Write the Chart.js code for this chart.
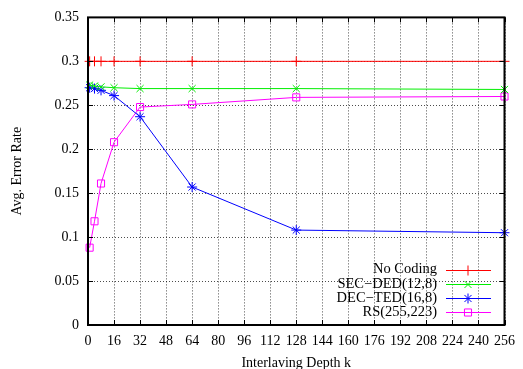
<!DOCTYPE html>
<html>
<head>
<meta charset="utf-8">
<script src="https://cdn.jsdelivr.net/npm/chart.js@4/dist/chart.umd.min.js"></script>
<style>
html,body{margin:0;padding:0;background:#fff;}
#wrap{position:relative;width:523px;height:369px;}
</style>
</head>
<body>
<div id="wrap"><canvas id="c" width="523" height="369"></canvas></div>
<script>
const depths = [1, 4, 8, 16, 32, 64, 128, 256];
const noCoding = [0.300, 0.300, 0.300, 0.300, 0.300, 0.300, 0.300, 0.300];
const secDed = [0.273, 0.272, 0.271, 0.270, 0.269, 0.269, 0.269, 0.268];
const decTed = [0.270, 0.269, 0.267, 0.261, 0.237, 0.157, 0.108, 0.105];
const rs = [0.088, 0.118, 0.161, 0.208, 0.248, 0.251, 0.259, 0.260];
const xTicks = [0, 16, 32, 48, 64, 80, 96, 112, 128, 144, 160, 176, 192, 208, 224, 240, 256];
const yTickLabels = ['0', '0.05', '0.1', '0.15', '0.2', '0.25', '0.3', '0.35'];
const seriesNames = ['No Coding', 'SEC\u2212DED(12,8)', 'DEC\u2212TED(16,8)', 'RS(255,223)'];
const seriesColors = ['#ff0000', '#00ee00', '#0000ff', '#ff00ff'];
const seriesStyles = ['cross', 'crossRot', 'star', 'rect'];
const seriesData = [noCoding, secDed, decTed, rs];

const FONT = '"Liberation Serif", "DejaVu Serif", serif';

const datasets = seriesData.map((vals, i) => ({
  label: seriesNames[i],
  data: depths.map((d, j) => ({x: d, y: vals[j]})),
  borderColor: seriesColors[i],
  backgroundColor: 'rgba(0,0,0,0)',
  borderWidth: 1,
  pointStyle: seriesStyles[i],
  pointRadius: 5,
  pointBorderWidth: 1,
  pointBorderColor: seriesColors[i],
  pointBackgroundColor: 'rgba(0,0,0,0)',
  tension: 0,
  clip: false
}));

const gridPlugin = {
  id: 'dotgrid',
  beforeDatasetsDraw(chart) {
    const ctx = chart.ctx, a = chart.chartArea;
    const xs = chart.scales.x, ys = chart.scales.y;
    ctx.save();
    ctx.strokeStyle = 'rgba(0,0,0,0.7)';
    ctx.lineWidth = 1;
    ctx.setLineDash([1, 2]);
    ctx.beginPath();
    xTicks.forEach(v => {
      const px = Math.round(xs.getPixelForValue(v)) + 0.5;
      ctx.moveTo(px, a.top); ctx.lineTo(px, a.bottom);
    });
    yTickLabels.forEach(t => {
      const py = Math.round(ys.getPixelForValue(parseFloat(t))) + 0.5;
      ctx.moveTo(a.left, py); ctx.lineTo(a.right, py);
    });
    ctx.stroke();
    ctx.restore();
  }
};

const framePlugin = {
  id: 'frame',
  afterDatasetsDraw(chart) {
    const ctx = chart.ctx, a = chart.chartArea;
    const xs = chart.scales.x, ys = chart.scales.y;
    ctx.save();
    ctx.strokeStyle = '#000';
    ctx.lineWidth = 1;
    ctx.beginPath();
    xTicks.forEach(v => {
      const px = Math.round(xs.getPixelForValue(v)) + 0.5;
      ctx.moveTo(px, a.top); ctx.lineTo(px, a.top + 5);
      ctx.moveTo(px, a.bottom); ctx.lineTo(px, a.bottom - 5);
    });
    yTickLabels.forEach(t => {
      const py = Math.round(ys.getPixelForValue(parseFloat(t))) + 0.5;
      ctx.moveTo(a.left, py); ctx.lineTo(a.left + 5, py);
      ctx.moveTo(a.right, py); ctx.lineTo(a.right - 5, py);
    });
    ctx.stroke();
    ctx.lineWidth = 2;
    ctx.strokeRect(a.left, a.top, a.right - a.left, a.bottom - a.top);

    // legend
    ctx.font = '14.5px ' + FONT;
    ctx.textAlign = 'right';
    ctx.textBaseline = 'middle';
    const textRight = 437, lx0 = 446, lx1 = 491, mx = 468;
    const rowY = [269.5, 283.8, 298.1, 312.4];
    seriesNames.forEach((name, i) => {
      const y = rowY[i];
      ctx.fillStyle = '#000';
      ctx.fillText(name, textRight, y);
      ctx.strokeStyle = seriesColors[i];
      ctx.fillStyle = 'rgba(0,0,0,0)';
      ctx.lineWidth = 1;
      ctx.beginPath();
      ctx.moveTo(lx0, Math.round(y) + 0.5); ctx.lineTo(lx1, Math.round(y) + 0.5);
      ctx.stroke();
      Chart.helpers.drawPoint(ctx, {pointStyle: seriesStyles[i], radius: 5, borderWidth: 1, rotation: 0}, mx, Math.round(y) + 0.5);
    });
    ctx.restore();
  }
};

new Chart(document.getElementById('c'), {
  type: 'line',
  data: {datasets},
  options: {
    responsive: false,
    animation: false,
    events: [],
    layout: {padding: {left: 0, top: 16, right: 15, bottom: 0}},
    plugins: {legend: {display: false}, tooltip: {enabled: false}},
    scales: {
      x: {
        type: 'linear',
        min: 0, max: 256,
        afterBuildTicks(s) { s.ticks = xTicks.map(v => ({value: v})); },
        afterFit(s) { s.height = 44; },
        ticks: {
          color: '#000', font: {family: FONT, size: 14}, padding: 8,
          maxRotation: 0, autoSkip: false,
          callback: v => String(v)
        },
        grid: {display: false, drawTicks: false},
        border: {display: false},
        title: {display: true, text: 'Interlaving Depth k', color: '#000', font: {family: FONT, size: 14}, padding: {top: 5, bottom: -3}}
      },
      y: {
        type: 'linear',
        min: 0, max: 0.35,
        afterBuildTicks(s) { s.ticks = yTickLabels.map(t => ({value: parseFloat(t)})); },
        afterFit(s) { s.width = 88; },
        ticks: {
          color: '#000', font: {family: FONT, size: 14}, padding: 9,
          callback: (v, i) => yTickLabels[i]
        },
        grid: {display: false, drawTicks: false},
        border: {display: false},
        title: {display: true, text: 'Avg. Error Rate', color: '#000', font: {family: FONT, size: 14}, padding: {top: 9, bottom: 0}}
      }
    }
  },
  plugins: [gridPlugin, framePlugin]
});
</script>
</body>
</html>
